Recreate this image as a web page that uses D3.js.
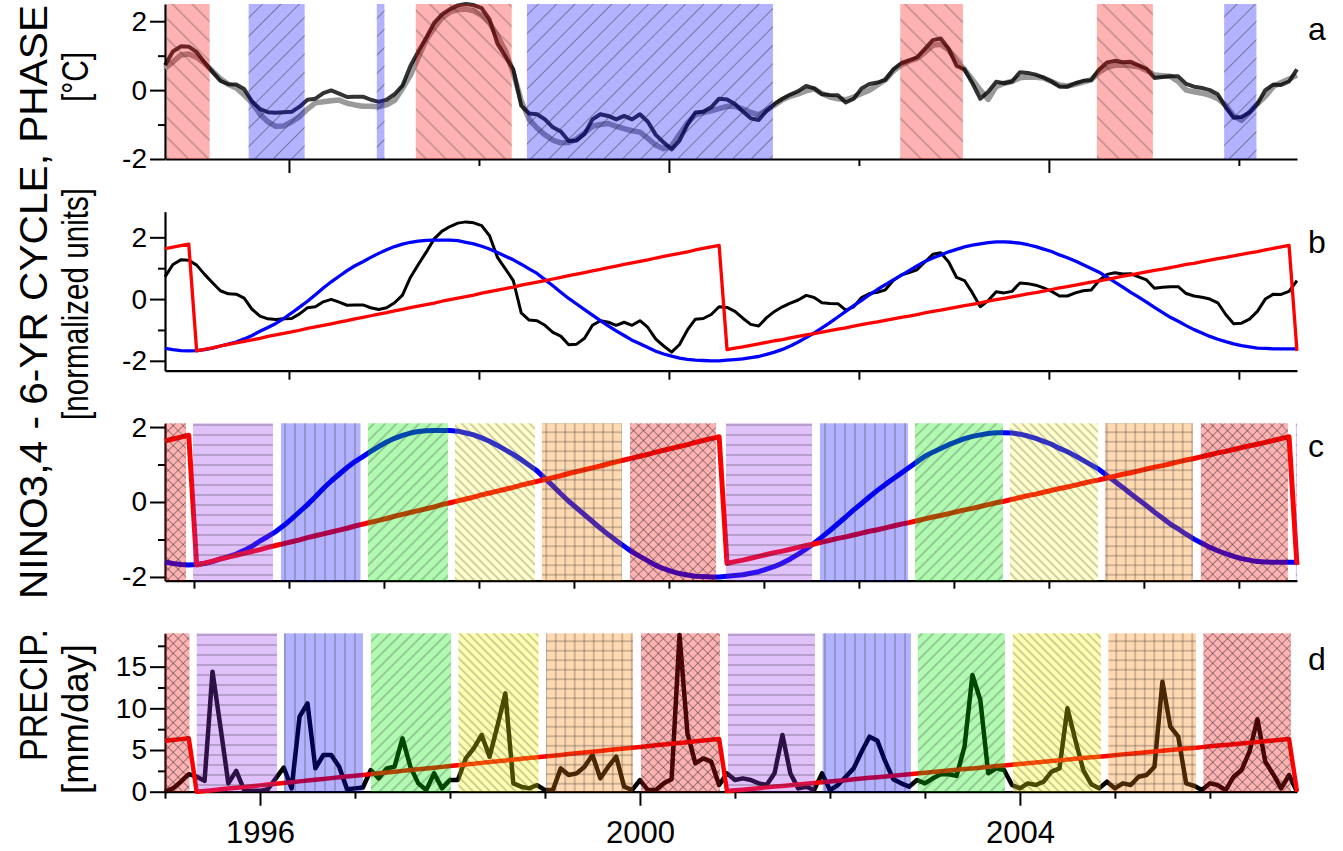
<!DOCTYPE html>
<html>
<head>
<meta charset="utf-8">
<script src="https://d3js.org/d3.v7.min.js"></script>
<style>
    body { margin: 0; background: #ffffff; }
    text { font-family: "Liberation Sans", Arial, sans-serif; fill: #000; }
    .title { font-family: "Liberation Sans Narrow", "Arial Narrow", "Liberation Sans", sans-serif; }
</style>
</head>
<body>
<div id="container"></div>
<script>
// set variables for further use
var canvasX = 1343;
var canvasY = 851;
var plotLeft = 165;
var plotRight = 1297;
var startYear = 1995;

// monthly NINO3.4 anomaly (black line, panels a and b)
var ninoRaw = [0.72, 1.12, 1.27, 1.26, 1.1, 0.8, 0.53, 0.27, 0.17, 0.16,
    0.03, -0.33, -0.55, -0.64, -0.66, -0.64, -0.63, -0.48, -0.28, -0.25,
    -0.09, -0.01, -0.1, -0.2, -0.19, -0.19, -0.28, -0.34, -0.28, -0.12,
    0.13, 0.7, 1.12, 1.52, 1.95, 2.2, 2.35, 2.46, 2.5, 2.47,
    2.38, 2.05, 1.35, 0.98, 0.6, -0.45, -0.68, -0.7, -0.85, -1.08,
    -1.2, -1.48, -1.46, -1.27, -0.85, -0.7, -0.75, -0.85, -0.75, -0.85,
    -0.7, -0.92, -1.3, -1.52, -1.72, -1.47, -1.0, -0.65, -0.63, -0.5,
    -0.25, -0.27, -0.4, -0.62, -0.82, -0.87, -0.6, -0.4, -0.25, -0.13,
    -0.03, 0.12, 0.05, -0.12, -0.14, -0.15, -0.36, -0.25, 0.05, 0.18,
    0.22, 0.3, 0.6, 0.78, 0.86, 0.95, 1.2, 1.45, 1.5, 1.2,
    0.7, 0.6, 0.2, -0.25, -0.05, 0.24, 0.2, 0.25, 0.52, 0.5,
    0.45, 0.36, 0.25, 0.1, 0.1, 0.2, 0.27, 0.29, 0.6, 0.8,
    0.85, 0.81, 0.82, 0.72, 0.62, 0.35, 0.38, 0.4, 0.4, 0.18,
    0.1, 0.06, 0.0, -0.12, -0.5, -0.8, -0.78, -0.65, -0.4, 0.0,
    0.16, 0.15, 0.25, 0.6];

// smoother NINO3.4 series (grey line, panel a)
var ninoSmooth = [0.63, 0.82, 1.02, 1.05, 0.95, 0.78, 0.55, 0.33, 0.17, 0.06,
    -0.14, -0.37, -0.7, -0.92, -1.05, -1.04, -0.92, -0.77, -0.55, -0.37,
    -0.34, -0.31, -0.29, -0.38, -0.43, -0.47, -0.47, -0.48, -0.43, -0.3,
    0.05, 0.43, 0.95, 1.46, 1.8, 2.1, 2.27, 2.34, 2.35, 2.3,
    2.17, 1.95, 1.58, 1.15, 0.5, -0.3, -0.85, -1.1, -1.3, -1.45,
    -1.53, -1.52, -1.42, -1.24, -1.05, -1.0, -0.97, -1.05, -1.12, -1.18,
    -1.22, -1.4, -1.6, -1.7, -1.62, -1.28, -0.95, -0.72, -0.65, -0.6,
    -0.54, -0.47, -0.47, -0.55, -0.65, -0.72, -0.58, -0.44, -0.28, -0.18,
    -0.11, -0.02, 0.04, -0.1, -0.2, -0.25, -0.28, -0.2, -0.1, 0.0,
    0.15, 0.3, 0.55, 0.73, 0.84, 0.92, 1.1, 1.3, 1.33, 1.16,
    0.85, 0.6, 0.3, 0.0, -0.27, 0.1, 0.2, 0.25, 0.36, 0.38,
    0.37, 0.35, 0.25, 0.15, 0.12, 0.17, 0.23, 0.3, 0.52, 0.66,
    0.72, 0.73, 0.71, 0.68, 0.57, 0.44, 0.42, 0.4, 0.25, 0.0,
    -0.05, -0.09, -0.15, -0.25, -0.44, -0.75, -0.88, -0.65, -0.4, -0.18,
    0.1, 0.22, 0.32, 0.44];

// 6-yr cycle (blue line, panels b and c)
var cycle = [-1.6, -1.64, -1.67, -1.68, -1.67, -1.64, -1.59, -1.52, -1.46, -1.39,
    -1.29, -1.18, -1.04, -0.92, -0.79, -0.63, -0.45, -0.26, -0.07, 0.14,
    0.36, 0.56, 0.74, 0.92, 1.08, 1.21, 1.35, 1.48, 1.6, 1.7,
    1.78, 1.84, 1.88, 1.9, 1.91, 1.91, 1.91, 1.89, 1.84, 1.79,
    1.71, 1.62, 1.51, 1.39, 1.27, 1.13, 0.98, 0.83, 0.63, 0.43,
    0.22, 0.02, -0.16, -0.34, -0.52, -0.7, -0.87, -1.03, -1.18, -1.33,
    -1.45, -1.57, -1.69, -1.78, -1.85, -1.91, -1.95, -1.98, -1.99, -2.0,
    -2.0, -1.98, -1.96, -1.94, -1.9, -1.86, -1.79, -1.72, -1.63, -1.52,
    -1.39, -1.25, -1.1, -0.93, -0.76, -0.58, -0.4, -0.21, -0.04, 0.14,
    0.31, 0.47, 0.62, 0.77, 0.92, 1.07, 1.22, 1.33, 1.43, 1.53,
    1.61, 1.69, 1.75, 1.79, 1.83, 1.85, 1.85, 1.84, 1.81, 1.76,
    1.7, 1.62, 1.54, 1.43, 1.34, 1.23, 1.11, 0.99, 0.87, 0.71,
    0.55, 0.39, 0.22, 0.06, -0.1, -0.27, -0.43, -0.59, -0.72, -0.86,
    -0.99, -1.1, -1.21, -1.3, -1.38, -1.45, -1.51, -1.55, -1.59, -1.6,
    -1.61, -1.61, -1.61, -1.61];

// phase of the cycle (red line, panels b, c and d)
var phase = [1.63, 1.68, 1.73, 1.78,
    -1.68, -1.63, -1.58, -1.52, -1.47, -1.42, -1.37, -1.32, -1.27, -1.21,
    -1.16, -1.11, -1.06, -1.01, -0.95, -0.9, -0.85, -0.8, -0.75, -0.7,
    -0.64, -0.59, -0.54, -0.49, -0.44, -0.38, -0.33, -0.28, -0.23, -0.18,
    -0.13, -0.07, -0.02, 0.03, 0.08, 0.13, 0.19, 0.24, 0.29, 0.34,
    0.39, 0.45, 0.5, 0.55, 0.6, 0.65, 0.7, 0.76, 0.81, 0.86,
    0.91, 0.96, 1.02, 1.07, 1.12, 1.17, 1.22, 1.27, 1.33, 1.38,
    1.43, 1.48, 1.53, 1.59, 1.64, 1.69, 1.74,
    -1.64, -1.59, -1.55, -1.5, -1.45, -1.4, -1.35, -1.31, -1.26, -1.21,
    -1.16, -1.12, -1.07, -1.02, -0.97, -0.93, -0.88, -0.83, -0.78, -0.74,
    -0.69, -0.64, -0.59, -0.55, -0.5, -0.45, -0.4, -0.36, -0.31, -0.26,
    -0.21, -0.17, -0.12, -0.07, -0.02, 0.02, 0.07, 0.12, 0.17, 0.21,
    0.26, 0.31, 0.36, 0.4, 0.45, 0.5, 0.55, 0.59, 0.64, 0.69,
    0.74, 0.78, 0.83, 0.88, 0.93, 0.97, 1.02, 1.07, 1.12, 1.16,
    1.21, 1.26, 1.31, 1.35, 1.4, 1.45, 1.5, 1.54, 1.59, 1.64,
    1.69, 1.74,
    -1.68];

// monthly precipitation in mm/day (black line, panel d)
var precip = [0, 0.4, 1.2, 2.1, 1.8, 1.3, 14.4, 7.8, 1.0, 2.5,
    0.2, 0.1, 0.1, 0.3, 1.6, 2.9, 0.4, 9.0, 10.6, 2.8,
    4.4, 4.4, 3.0, 0.3, 0.4, 0.5, 2.6, 1.6, 2.8, 3.0,
    6.4, 3.0, 1.0, 0.2, 2.2, 0.4, 1.4, 1.4, 4.0, 5.2,
    6.8, 4.2, 7.9, 11.8, 1.0, 0.6, 0.4, 0.8, 0.2, 0.2,
    2.8, 2.0, 2.2, 3.0, 4.4, 1.6, 3.0, 4.2, 0.6, 0.2,
    1.4, 0.2, 0.2, 1.0, 1.5, 18.8, 7.0, 3.4, 4.0, 3.6,
    0.8, 2.2, 1.4, 1.6, 1.4, 1.0, 0.8, 2.2, 6.8, 2.2,
    0.4, 0.6, 0.2, 2.2, 0.2, 0.8, 1.8, 2.8, 4.8, 6.6,
    6.1, 3.6, 1.5, 1.0, 0.6, 1.4, 1.0, 1.6, 2.1, 2.1,
    1.9, 5.4, 14.0, 11.0, 2.2, 2.8, 2.6, 0.8, 0.4, 1.0,
    0.8, 1.2, 2.4, 2.8, 10.0, 6.2, 2.6, 0.9, 0.4, 1.2,
    0.4, 1.0, 0.8, 1.8, 2.0, 3.0, 13.2, 7.8, 6.6, 1.0,
    0.7, 0.2, 1.0, 0.8, 0.2, 1.8, 2.6, 4.8, 8.7, 3.6,
    2.1, 0.4, 2.0, 0.0];

// ENSO episodes of panel a (years)
var ensoStart = [1995.02, 1995.88, 1997.23, 1997.64, 1998.81, 2002.74, 2004.81, 2006.15];
var ensoEnd = [1995.47, 1996.47, 1997.31, 1998.65, 2001.40, 2003.40, 2005.40, 2006.49];
var ensoType = ["nino", "nina", "nina", "nino", "nina", "nino", "nino", "nina"];

// phase classes of panel c (0 purple .. 5 red)
var bandStartC = [1995.0, 1995.295, 1996.221, 1997.137, 1998.053, 1998.968, 1999.895,
    2000.905, 2001.895, 2002.895, 2003.895, 2004.895, 2005.905, 2006.905];
var bandEndC = [1995.221, 1996.137, 1997.058, 1997.979, 1998.895, 1999.811, 2000.8,
    2001.811, 2002.821, 2003.821, 2004.821, 2005.821, 2006.821, 2006.917];
var bandPhaseC = [5, 0, 1, 2, 3, 4, 5, 0, 1, 2, 3, 4, 5, 0];

// phase classes of panel d
var bandStartD = [1995.0, 1995.334, 1996.253, 1997.168, 1998.089, 1999.011, 2000.011,
    2000.926, 2001.923, 2002.926, 2003.926, 2004.932, 2005.932];
var bandEndD = [1995.257, 1996.179, 1997.084, 1998.011, 1998.931, 1999.926, 2000.842,
    2001.842, 2002.853, 2003.842, 2004.853, 2005.853, 2006.853];
var bandPhaseD = [5, 0, 1, 2, 3, 4, 5, 0, 1, 2, 3, 4, 5];

// tick values and labels
var yTicksMajor = [-2, 0, 2];
var yTicksMinor = [-1, 1];
var precipTicksMajor = [0, 5, 10, 15];
var precipTicksMinor = [2.5, 7.5, 12.5, 17.5];
var yearTicksAB = [1996.305, 2000.305, 2004.305];
var yearTicksABMinor = [1998.305, 2002.305, 2006.305];
var yearTicksC = [1995.305, 1996.305, 1997.305, 1998.305, 1999.305, 2000.305,
    2001.305, 2002.305, 2003.305, 2004.305, 2005.305, 2006.305];
var yearLabels = [1996, 2000, 2004];
var yearTicksD = [1995, 1997, 1998, 1999, 2001, 2002, 2003, 2005, 2006];
var panelLetters = ["a", "b", "c", "d"];

// colours and patterns of the phase classes
var phaseColors = ["#9933ee", "#0000ff", "#00ee00", "#ffff00", "#ff8000", "#ff0000"];
var phasePatterns = ["hatchH", "hatchV", "hatchFwd", "hatchBack", "hatchGrid", "hatchCross"];

// make svg
var svg = d3.select("#container")
            .append("svg")
            .attr("width", canvasX)
            .attr("height", canvasY);

var defs = svg.append("defs");

// scales
var xScale = d3.scaleLinear()
               .domain([1995, 2006.917])
               .range([plotLeft, plotRight]);

var yA = d3.scaleLinear().domain([-2, 2.5]).range([159, 4]);
var yB = d3.scaleLinear().domain([-2.32, 2.83]).range([370.7, 211.7]);
var yC = d3.scaleLinear().domain([-2.1, 2.1]).range([580.7, 423.3]);
var yD = d3.scaleLinear().domain([0, 19]).range([791.7, 633.3]);

// phase drawn against the precipitation axis
var phaseToPrecip = d3.scaleLinear().domain([-1.68, 1.78]).range([0, 6.4]);

// make hatch patterns
makePattern("aBack", 14, 45, "h");
makePattern("aFwd", 13, -45, "h");
makePattern("hatchH", 10, 0, "h");
makePattern("hatchV", 10, 0, "v");
makePattern("hatchFwd", 8, -45, "h");
makePattern("hatchBack", 6, 45, "h");
makePattern("hatchGrid", 9.5, 0, "hv");
makePattern("hatchCross", 7, 45, "hv");

// panel a
drawYAxis(yA, yTicksMajor, yTicksMinor);
drawXAxis(yA.range()[0], yearTicksAB, 14, yearTicksABMinor, 7, false);
drawLine(ninoSmooth, yA, "#9a9a9a", 5.5, 1);
drawLine(ninoRaw, yA, "#000000", 4, 0.8);
ensoBands();

// panel b
drawYAxis(yB, yTicksMajor, yTicksMinor);
drawXAxis(yB.range()[0], yearTicksAB, 9, yearTicksABMinor, 9, false);
drawLine(ninoRaw, yB, "#000000", 3, 1);
drawLine(cycle, yB, "#0000ff", 3.3, 1);
drawLine(phase, yB, "#ff0000", 3.3, 1);

// panel c
drawYAxis(yC, yTicksMajor, yTicksMinor);
drawXAxis(yC.range()[0], yearTicksC, 8, [], 0, false);
drawLine(cycle, yC, "#0000ff", 5, 1);
drawLine(phase, yC, "#ff0000", 5, 1);
phaseBands(bandStartC, bandEndC, bandPhaseC, yC, 0.3, 0.2);

// panel d
drawYAxis(yD, precipTicksMajor, precipTicksMinor);
drawXAxis(yD.range()[0], yearLabels, 14, yearTicksD, 7, true);
drawLine(precip, yD, "#000000", 4.5, 1);
drawLine(phase.map(phaseToPrecip), yD, "#ff0000", 4.5, 1);
phaseBands(bandStartD, bandEndD, bandPhaseD, yD, 0.3, 0.3);

// labels
panelLabels();
axisTitles();

// function to make a hatch pattern
function makePattern(id, size, angle, dirs) {
    var pattern = defs.append("pattern")
                      .attr("id", id)
                      .attr("patternUnits", "userSpaceOnUse")
                      .attr("width", size)
                      .attr("height", size)
                      .attr("patternTransform", "rotate(" + angle + ")");

    if (dirs.indexOf("h") >= 0) {
        pattern.append("line")
               .attr("x1", 0).attr("y1", size / 2)
               .attr("x2", size).attr("y2", size / 2);
    }
    if (dirs.indexOf("v") >= 0) {
        pattern.append("line")
               .attr("x1", size / 2).attr("y1", 0)
               .attr("x2", size / 2).attr("y2", size);
    }
    pattern.selectAll("line")
           .attr("stroke", "#2a2a2a")
           .attr("stroke-width", 1)
           .attr("stroke-opacity", 0.45);
};

// function to draw left axis with major and minor ticks
function drawYAxis(y, major, minor) {
    var majorAxis = d3.axisLeft(y)
                      .tickValues(major)
                      .tickSize(15)
                      .tickSizeOuter(0)
                      .tickPadding(3)
                      .tickFormat(function(d) { return String(d); });

    var g = svg.append("g")
               .attr("class", "axis")
               .attr("transform", "translate(" + plotLeft + ",0)")
               .call(majorAxis);
    g.attr("font-family", null).attr("font-size", null);
    g.selectAll("text").style("font-size", "28px");

    var minorAxis = d3.axisLeft(y)
                      .tickValues(minor)
                      .tickSize(7)
                      .tickSizeOuter(0)
                      .tickFormat("");
    var m = svg.append("g")
               .attr("transform", "translate(" + plotLeft + ",0)")
               .call(minorAxis);
    m.select(".domain").remove();

    svg.selectAll(".tick line").attr("stroke-width", 2);
    svg.selectAll(".domain").attr("stroke-width", 2.2);
};

// function to draw bottom axis
function drawXAxis(y0, major, majorSize, minor, minorSize, withLabels) {
    var majorAxis = d3.axisBottom(xScale)
                      .tickValues(major)
                      .tickSize(majorSize)
                      .tickSizeOuter(0)
                      .tickPadding(15)
                      .tickFormat(function(d) { return withLabels ? String(d) : ""; });

    var g = svg.append("g")
               .attr("transform", "translate(0," + y0 + ")")
               .call(majorAxis);
    g.attr("font-family", null).attr("font-size", null);
    g.selectAll("text").style("font-size", "31px");

    if (minor.length > 0) {
        var minorAxis = d3.axisBottom(xScale)
                          .tickValues(minor)
                          .tickSize(minorSize)
                          .tickSizeOuter(0)
                          .tickFormat("");
        var m = svg.append("g")
                   .attr("transform", "translate(0," + y0 + ")")
                   .call(minorAxis);
        m.select(".domain").remove();
    }

    svg.selectAll(".tick line").attr("stroke-width", 2);
    svg.selectAll(".domain").attr("stroke-width", 2.2);
};

// function to draw a monthly series
function drawLine(values, y, color, width, opacity) {
    var line = d3.line()
                 .x(function(d, i) { return xScale(startYear + i / 12); })
                 .y(function(d) { return y(d); });

    svg.append("path")
       .datum(values)
       .attr("d", line)
       .attr("fill", "none")
       .attr("stroke", color)
       .attr("stroke-width", width)
       .attr("stroke-opacity", opacity)
       .attr("stroke-linejoin", "round");
};

// function to draw the El Nino / La Nina bands of panel a
function ensoBands() {
    var top = yA.range()[1];
    var bottom = yA.range()[0];
    var g = svg.append("g").attr("class", "enso");

    ensoStart.forEach(function(s, i) {
        var nino = ensoType[i] == "nino";
        var x0 = xScale(s);
        var w = xScale(ensoEnd[i]) - x0;
        g.append("rect")
         .attr("x", x0).attr("y", top)
         .attr("width", w).attr("height", bottom - top)
         .attr("fill", nino ? "#ff0000" : "#0000ff")
         .attr("fill-opacity", 0.3);
        g.append("rect")
         .attr("x", x0).attr("y", top)
         .attr("width", w).attr("height", bottom - top)
         .attr("fill", nino ? "url(#aBack)" : "url(#aFwd)");
    });
};

// function to draw the phase class bands of panels c and d
function phaseBands(starts, ends, phases, y, alpha, yellowAlpha) {
    var top = y.range()[1];
    var bottom = y.range()[0];
    var g = svg.append("g").attr("class", "phases");

    starts.forEach(function(s, i) {
        var x0 = xScale(s);
        var w = xScale(ends[i]) - x0;
        var p = phases[i];
        g.append("rect")
         .attr("x", x0).attr("y", top)
         .attr("width", w).attr("height", bottom - top)
         .attr("fill", phaseColors[p])
         .attr("fill-opacity", p == 3 ? yellowAlpha : alpha);
        g.append("rect")
         .attr("x", x0).attr("y", top)
         .attr("width", w).attr("height", bottom - top)
         .attr("fill", "url(#" + phasePatterns[p] + ")");
    });
};

// panel letters a-d
function panelLabels() {
    var baselines = [40, 253, 457, 670];
    svg.selectAll(".letter")
       .data(panelLetters)
       .enter()
       .append("text")
       .attr("class", "letter")
       .attr("x", 1308)
       .attr("y", function(d, i) { return baselines[i]; })
       .style("font-size", "32px")
       .text(function(d) { return d; });
};

// rotated axis titles
function axisTitles() {
    var titles = [
        {text: "NINO3,4 - 6-YR CYCLE, PHASE", x: 47, y: 302, len: 594, size: 39},
        {text: "[°C]", x: 88, y: 77, len: 50, size: 37},
        {text: "[normalized  units]", x: 88, y: 304, len: 232, size: 37},
        {text: "PRECIP.", x: 47, y: 695, len: 132, size: 39},
        {text: "[mm/day]", x: 88, y: 719, len: 150, size: 37}
    ];

    svg.selectAll(".title")
       .data(titles)
       .enter()
       .append("text")
       .attr("class", "title")
       .attr("transform", function(d) {
           return "translate(" + d.x + "," + d.y + ") rotate(-90)";
       })
       .attr("text-anchor", "middle")
       .attr("textLength", function(d) { return d.len; })
       .attr("lengthAdjust", "spacingAndGlyphs")
       .style("font-size", function(d) { return d.size + "px"; })
       .text(function(d) { return d.text; });
};
</script>
</body>
</html>
